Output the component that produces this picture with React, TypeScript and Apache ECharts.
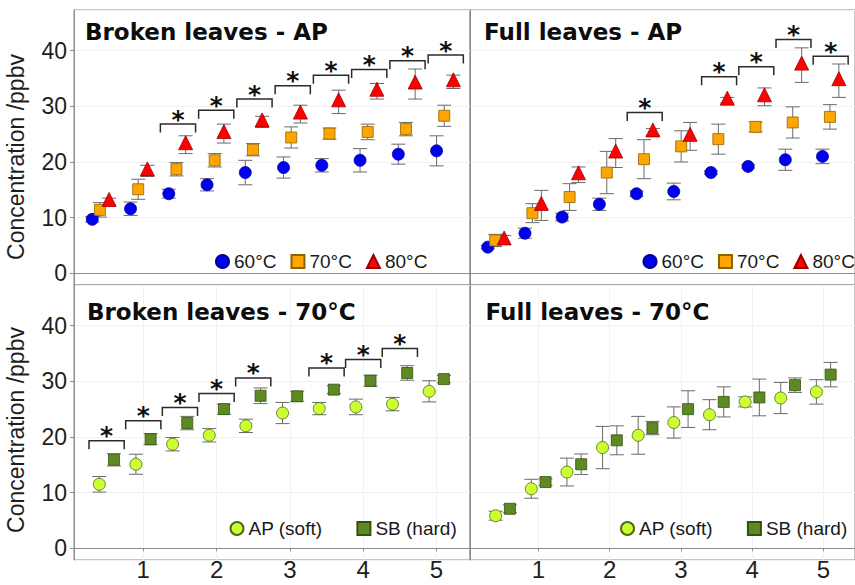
import React, { useEffect, useRef } from "react";
import * as echarts from "echarts";

// Sampling times (x positions of groups)
const TIMES = [0.5, 1, 1.5, 2, 2.5, 3, 3.5, 4, 4.5, 5];
const X_TICKS = [1, 2, 3, 4, 5];
const Y_TICKS = [0, 10, 20, 30, 40];

// Panel titles
const TITLES = ["Broken leaves - AP", "Full leaves - AP", "Broken leaves - 70°C", "Full leaves - 70°C"];
const Y_NAME = "Concentration /ppbv";
const TEMP_NAMES = ["60°C", "70°C", "80°C"];
const TYPE_NAMES = ["AP (soft)", "SB (hard)"];

// Broken leaves - AP
const bl60 = [9.7, 11.6, 14.3, 15.9, 18.1, 19.0, 19.4, 20.3, 21.4, 22.0];
const bl60Err = [0.5, 1.2, 0.8, 1.1, 2.2, 1.9, 1.2, 2.1, 1.8, 2.7];
const bl70 = [11.4, 15.1, 18.7, 20.3, 22.2, 24.4, 25.1, 25.4, 25.9, 28.3];
const bl70Err = [1.3, 1.8, 1.2, 1.2, 1.1, 1.9, 1.0, 1.4, 1.2, 1.9];
const bl80 = [12.9, 18.4, 23.1, 25.1, 27.2, 28.6, 30.8, 32.7, 34.0, 34.4];
const bl80Err = [0.6, 1.0, 1.6, 1.7, 1.0, 1.6, 2.1, 1.4, 2.7, 1.2];
const blSigTimes = [1.5, 2, 2.5, 3, 3.5, 4, 4.5, 5];
const blSigY = [26.8, 29.3, 31.3, 33.7, 35.6, 36.6, 38.2, 39.2];

// Full leaves - AP
const fl60 = [4.7, 7.2, 10.1, 12.4, 14.3, 14.7, 18.1, 19.2, 20.4, 21.0];
const fl60Err = [0.3, 0.9, 0.7, 1.1, 0.5, 1.5, 0.3, 0.3, 1.9, 1.3];
const fl70 = [5.9, 10.8, 13.7, 18.1, 20.5, 22.8, 24.1, 26.3, 27.1, 28.1];
const fl70Err = [1.1, 1.7, 2.4, 3.8, 3.5, 2.8, 2.7, 0.9, 2.8, 2.2];
const fl80 = [6.0, 12.2, 17.7, 21.6, 25.4, 24.6, 31.1, 31.7, 37.4, 34.6];
const fl80Err = [0.8, 2.7, 1.4, 2.6, 0.6, 2.5, 0.5, 1.6, 3.1, 3.0];
const flSigTimes = [2.5, 3.5, 4, 4.5, 5];
const flSigY = [28.9, 35.3, 37.1, 42.0, 39.0];

// Broken leaves - 70°C
const bAP = [11.5, 15.1, 18.7, 20.3, 22.0, 24.3, 25.1, 25.4, 25.9, 28.2];
const bAPErr = [1.4, 1.8, 1.2, 1.2, 1.2, 1.9, 1.1, 1.4, 1.2, 1.9];
const bSB = [15.9, 19.6, 22.5, 25.0, 27.4, 27.3, 28.5, 30.1, 31.5, 30.4];
const bSBErr = [1.1, 1.0, 1.2, 0.9, 1.4, 0.9, 0.7, 1.0, 1.3, 0.65];
const bSigTimes = [0.5, 1, 1.5, 2, 2.5, 3.5, 4, 4.5];
const bSigY = [19.3, 22.9, 25.3, 27.8, 30.6, 32.4, 33.9, 35.9];

// Full leaves - 70°C
const fAP = [5.85, 10.7, 13.7, 18.1, 20.3, 22.6, 24.0, 26.3, 27.0, 28.1];
const fAPErr = [0.8, 1.7, 2.5, 3.8, 3.4, 2.8, 2.7, 0.9, 2.8, 2.2];
const fSB = [7.1, 11.9, 15.1, 19.4, 21.6, 25.0, 26.3, 27.1, 29.3, 31.2];
const fSBErr = [0.7, 0.6, 1.85, 2.6, 1.2, 3.3, 2.7, 3.3, 1.3, 2.2];

const SANS = "'Liberation Sans', Arial, sans-serif";
const TITLE_FONT = "'DejaVu Sans', Verdana, sans-serif";
const BORDER = "#8c8c8c";
const FAINT = "#f2f2f2";

const STYLE: Record<string, any> = {
  "60°C": { symbol: "circle", size: 12, color: "#0000f0", border: "#00009a", offset: [0, 0] },
  "70°C": { symbol: "rect", size: 11, color: "#ffa500", border: "#8f6400", offset: [0, 0] },
  "80°C": { symbol: "triangle", size: 14, color: "#ff0000", border: "#9a0000", offset: [0, -2] },
  "AP (soft)": { symbol: "circle", size: 12, color: "#ccff33", border: "#4d6b12", offset: [0, 0] },
  "SB (hard)": { symbol: "rect", size: 11, color: "#5f8a23", border: "#34500e", offset: [0, 0] },
};

function renderErr(params: any, api: any) {
  const x = api.value(0);
  const y = api.value(1);
  const e = api.value(2);
  const a = api.coord([x, y + e]);
  const b = api.coord([x, y - e]);
  const hw = 7;
  const style = { stroke: "#6a6a6a", lineWidth: 1, fill: null };
  return {
    type: "group",
    children: [
      { type: "line", shape: { x1: a[0], y1: a[1], x2: b[0], y2: b[1] }, style },
      { type: "line", shape: { x1: a[0] - hw, y1: a[1], x2: a[0] + hw, y2: a[1] }, style },
      { type: "line", shape: { x1: b[0] - hw, y1: b[1], x2: b[0] + hw, y2: b[1] }, style },
    ],
  };
}

function makeBracketRenderer(hw: number) {
  return (params: any, api: any) => {
    const c = api.value(0);
    const y = api.value(1);
    const l = api.coord([c - hw, y]);
    const r = api.coord([c + hw, y]);
    const drop = 8.5;
    return {
      type: "group",
      children: [
        {
          type: "polyline",
          shape: { points: [[l[0], l[1] + drop], [l[0], l[1]], [r[0], r[1]], [r[0], r[1] + drop]] },
          style: { stroke: "#2b2b2b", lineWidth: 1.5, fill: null },
        },
        {
          type: "text",
          x: (l[0] + r[0]) / 2,
          y: l[1] - 5,
          style: {
            text: "*",
            fontSize: 25,
            fontWeight: "bold",
            fontFamily: TITLE_FONT,
            fill: "#111",
            align: "center",
            verticalAlign: "middle",
          },
        },
      ],
    };
  };
}

function pointSeries(name: string, vals: number[], errs: number[], offset: number, idx: number) {
  const s = STYLE[name];
  return [
    {
      type: "custom",
      xAxisIndex: idx,
      yAxisIndex: idx,
      renderItem: renderErr,
      encode: { x: 0, y: 1 },
      data: TIMES.map((t, i) => [t + offset, vals[i], errs[i]]),
      z: 2,
      silent: true,
    },
    {
      type: "scatter",
      name,
      xAxisIndex: idx,
      yAxisIndex: idx,
      symbol: s.symbol,
      symbolSize: s.size,
      symbolOffset: s.offset,
      itemStyle: { color: s.color, borderColor: s.border, borderWidth: 0.8, opacity: 1 },
      data: TIMES.map((t, i) => [t + offset, vals[i]]),
      z: 3,
      clip: false,
    },
  ];
}

function bracketSeries(times: number[], ys: number[], idx: number, hw: number, shift: number) {
  return {
    type: "custom",
    xAxisIndex: idx,
    yAxisIndex: idx,
    renderItem: makeBracketRenderer(hw),
    encode: { x: 0, y: 1 },
    data: times.map((t, i) => [t + shift, ys[i]]),
    z: 4,
    silent: true,
  };
}

export default function App() {
  const ref = useRef<HTMLDivElement>(null);
  useEffect(() => {
    if (!ref.current) return;
    const chart = echarts.init(ref.current, null, { renderer: "svg" });

    const grids = [
      { left: 74, top: 10, width: 396, height: 275 },
      { left: 470, top: 10, width: 396, height: 275 },
      { left: 74, top: 285, width: 396, height: 275 },
      { left: 470, top: 285, width: 396, height: 275 },
    ].map((g) => ({ ...g, show: true, borderColor: BORDER, borderWidth: 1, backgroundColor: "transparent" }));

    const topX = { min: 0.161, max: 5.337 };
    const xRanges = [topX, topX, { min: 0.055, max: 5.457 }, { min: 0.04, max: 5.442 }];

    const xAxes = xRanges.map((r, i) => {
      const bottom = i >= 2;
      return {
        type: "value",
        gridIndex: i,
        min: r.min,
        max: r.max,
        splitNumber: 5,
        axisLine: { show: true, lineStyle: { color: BORDER, width: 1 } },
        axisTick: { show: bottom, length: 3, lineStyle: { color: BORDER } },
        axisLabel: {
          show: bottom,
          showMinLabel: false,
          showMaxLabel: false,
          margin: -3,
          fontSize: 24,
          fontFamily: SANS,
          color: "#1e1e1e",
          formatter: (v: number) => (X_TICKS.includes(v) ? String(v) : ""),
        },
        splitLine: { show: bottom, lineStyle: { color: FAINT, width: 1 } },
      };
    });

    const yAxes = [0, 1, 2, 3].map((i) => {
      const left = i % 2 === 0;
      return {
        type: "value",
        gridIndex: i,
        min: -2.1,
        max: 47.3,
        splitNumber: 5,
        axisLine: { show: true, lineStyle: { color: BORDER, width: 1 } },
        axisTick: { show: left, length: 4, lineStyle: { color: BORDER } },
        axisLabel: {
          show: left,
          showMinLabel: false,
          showMaxLabel: false,
          margin: 7,
          fontSize: 23,
          fontFamily: SANS,
          color: "#1e1e1e",
          formatter: (v: number) => (Y_TICKS.includes(v) ? String(v) : ""),
        },
        splitLine: { show: true, lineStyle: { color: FAINT, width: 1 } },
      };
    });

    const series: any[] = [
      ...pointSeries("60°C", bl60, bl60Err, -0.1, 0),
      ...pointSeries("70°C", bl70, bl70Err, 0, 0),
      ...pointSeries("80°C", bl80, bl80Err, 0.12, 0),
      bracketSeries(blSigTimes, blSigY, 0, 0.23, 0.02),
      ...pointSeries("60°C", fl60, fl60Err, -0.1, 1),
      ...pointSeries("70°C", fl70, fl70Err, 0, 1),
      ...pointSeries("80°C", fl80, fl80Err, 0.12, 1),
      bracketSeries(flSigTimes, flSigY, 1, 0.235, 0.01),
      ...pointSeries("AP (soft)", bAP, bAPErr, -0.1, 2),
      ...pointSeries("SB (hard)", bSB, bSBErr, 0.1, 2),
      bracketSeries(bSigTimes, bSigY, 2, 0.24, 0),
      ...pointSeries("AP (soft)", fAP, fAPErr, -0.1, 3),
      ...pointSeries("SB (hard)", fSB, fSBErr, 0.1, 3),
    ];

    const legendBase = {
      orient: "horizontal",
      padding: 0,
      itemWidth: 13,
      itemHeight: 13,
      selectedMode: false,
      textStyle: { fontSize: 19, fontFamily: SANS, color: "#1a1a1a" },
    };

    const titlePos = [
      [85, 31.5],
      [484, 31.5],
      [87, 312],
      [485.5, 311.5],
    ];

    const graphic: any[] = TITLES.map((t, i) => ({
      type: "text",
      x: titlePos[i][0],
      y: titlePos[i][1],
      z: 10,
      style: {
        text: t,
        fontSize: 23,
        fontWeight: "bold",
        fontFamily: TITLE_FONT,
        fill: "#0d0d0d",
        align: "left",
        verticalAlign: "middle",
      },
    }));
    [157, 430].forEach((y) =>
      graphic.push({
        type: "text",
        x: 16,
        y,
        rotation: Math.PI / 2,
        z: 10,
        style: {
          text: Y_NAME,
          fontSize: 23,
          fontFamily: SANS,
          fill: "#1e1e1e",
          align: "center",
          verticalAlign: "middle",
        },
      })
    );

    chart.setOption({
      animation: false,
      backgroundColor: "#ffffff",
      grid: grids,
      xAxis: xAxes,
      yAxis: yAxes,
      legend: [
        { ...legendBase, data: TEMP_NAMES, left: 215, top: 252, itemGap: 14 },
        { ...legendBase, data: TEMP_NAMES, left: 642.5, top: 252, itemGap: 14 },
        { ...legendBase, data: TYPE_NAMES, left: 229.5, top: 519, itemGap: 34 },
        { ...legendBase, data: TYPE_NAMES, left: 620, top: 519, itemGap: 34 },
      ],
      graphic,
      series,
    });
    return () => chart.dispose();
  }, []);
  return (
    <div
      ref={ref}
      style={{ position: "absolute", left: 0, top: 0, width: 855, height: 585 }}
    />
  );
}
